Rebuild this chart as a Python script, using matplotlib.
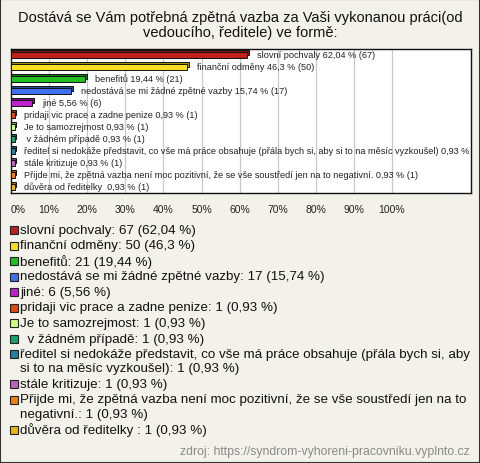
import textwrap
import matplotlib.pyplot as plt
from matplotlib.patches import Rectangle
from matplotlib.colors import to_rgb

plt.rcParams['font.family'] = ['Liberation Sans', 'DejaVu Sans']

title = "Dostává se Vám potřebná zpětná vazba za Vaši vykonanou práci(od\nvedoucího, ředitele) ve formě:"
source = "zdroj: https://syndrom-vyhoreni-pracovniku.vyplnto.cz"

# answers, counts and percentages as shown in the chart
answers = ["slovní pochvaly", "finanční odměny", "benefitů", "nedostává se mi žádné zpětné vazby",
           "jiné", "pridaji vic prace a zadne penize", "Je to samozrejmost", " v žádném případě",
           "ředitel si nedokáže představit, co vše má práce obsahuje (přála bych si, aby si to na měsíc vyzkoušel)",
           "stále kritizuje", "Přijde mi, že zpětná vazba není moc pozitivní, že se vše soustředí jen na to negativní.",
           "důvěra od ředitelky "]
counts = [67, 50, 21, 17, 6, 1, 1, 1, 1, 1, 1, 1]
percents = [62.04, 46.3, 19.44, 15.74, 5.56, 0.93, 0.93, 0.93, 0.93, 0.93, 0.93, 0.93]
colors = ["#c0201a", "#f8e020", "#20c020", "#4070f0", "#c020d0", "#e04810",
          "#c8ff80", "#18a070", "#2080a0", "#c060c0", "#f08010", "#e8b810"]
ticks = list(range(0, 101, 10))


def fmt(p):
    return f"{p:g}".replace(".", ",")


W, H = 480, 464
fig = plt.figure(figsize=(W / 100, H / 100), dpi=100)
fig.patch.set_facecolor("#f2f2ea")
fig.patches.append(Rectangle((0, 0), 1, 1, transform=fig.transFigure, fill=False,
                             edgecolor="#333333", linewidth=1.5))

fig.text(0.5, 1 - 25.5 / H, title, ha="center", va="center", fontsize=10.5,
         color="#111111", linespacing=1.15)

# bar area
ax = fig.add_axes([11 / W, 1 - 194 / H, 460 / W, 144 / H])
ax.set_facecolor("white")
xmax = 460 / 3.81
ax.set_xlim(0, xmax)
ax.set_ylim(len(answers) - 0.5, -0.5)
for t in ticks:
    ax.axvline(t, color="#c8c8c8", linewidth=0.9, zorder=0)
for s in ax.spines.values():
    s.set_linewidth(1.0)
    s.set_color("#111111")

ys = list(range(len(answers)))
shade = [tuple(c * 0.65 for c in to_rgb(col)) for col in colors]
ax.barh([y - 0.17 for y in ys], [p + 0.5 for p in percents], height=0.42, color=shade,
        edgecolor="#111111", linewidth=0.7, zorder=2)
ax.barh(ys, percents, height=0.42, color=colors, edgecolor="#111111", linewidth=0.7, zorder=3)

for y, name, n, p in zip(ys, answers, counts, percents):
    label = f"{name} {fmt(p)} % ({n})"
    ax.text(p + 2.6, y - 0.05, label, fontsize=6.6, va="center", ha="left", color="#222222",
            clip_on=True, zorder=4)

ax.set_yticks([])
ax.set_xticks(ticks)
ax.set_xticklabels([f"{t}%" for t in ticks], fontsize=7.5, color="#222222")
ax.get_xticklabels()[0].set_horizontalalignment("left")
ax.tick_params(axis="x", length=0, pad=8)

# legend
y = 231
for name, n, p, col in zip(answers, counts, percents, colors):
    lines = textwrap.wrap(f"{name}: {n} ({fmt(p)} %)", 77)
    fig.patches.append(Rectangle((10 / W, 1 - (y + 4) / H), 8 / W, 8 / H, transform=fig.transFigure,
                                 facecolor=col, edgecolor="#222222", linewidth=0.8))
    for i, line in enumerate(lines):
        if i == 0 and name.startswith(" "):
            line = " " + line
        fig.text(20 / W, 1 - (y + 14.5 * i) / H, line, fontsize=9.6, va="center", ha="left",
                 color="#111111")
    y += 15.5 + 14.5 * (len(lines) - 1)

fig.text(470 / W, 1 - 452 / H, source, fontsize=8.8, ha="right", va="center", color="#8a8a8a")

fig.savefig("out.png", dpi=100, facecolor=fig.get_facecolor())
